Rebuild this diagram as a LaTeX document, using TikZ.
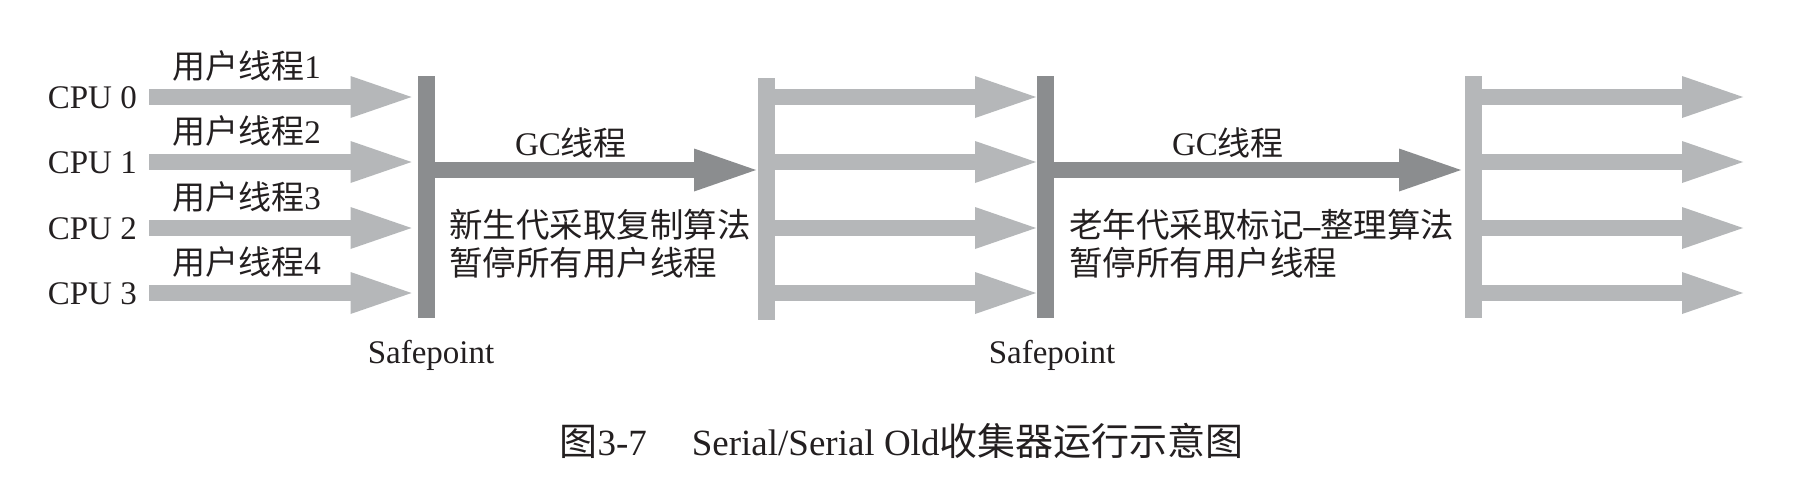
\documentclass[tikz,border=0pt]{standalone}
\usepackage{fontspec}
\setmainfont{Liberation Serif}
\newfontfamily\cjk{Noto Sans CJK SC}
\usetikzlibrary{arrows.meta}
\definecolor{lightbar}{RGB}{181,183,185}
\definecolor{darkbar}{RGB}{139,141,143}
\definecolor{ink}{RGB}{35,31,32}
\begin{document}
\begin{tikzpicture}[x=1pt,y=-1pt,
  barbase/.style={minimum width=17pt, minimum height=242pt, inner sep=0pt, outer sep=0pt, draw=none},
  darkstop/.style={barbase, fill=darkbar},
  lightstop/.style={barbase, fill=lightbar},
  userarrow/.style={draw=lightbar, line width=16pt, -{Triangle[length=61pt,width=42pt,line width=0pt]}},
  gcarrow/.style={draw=darkbar, line width=16pt, -{Triangle[length=62pt,width=43pt,line width=0pt]}},
  txt/.style={font=\fontsize{33}{39}\selectfont, text=ink, inner sep=0pt},
  cpulabel/.style={txt, inner xsep=12pt, anchor=base east},
  thrlabel/.style={txt},
  desc/.style={txt, font=\fontsize{33.5}{38.5}\selectfont\cjk, align=left, anchor=west},
  caption/.style={txt, font=\fontsize{37}{44}\selectfont},
]
\useasboundingbox[fill=white] (0,0) rectangle (1794,482);

% stop bars
\node[darkstop]  (sp1) at (426,197) {};
\node[lightstop] (r1)  at (766,199) {};
\node[darkstop]  (sp2) at (1045.5,197) {};
\node[lightstop] (r2)  at (1473.5,197) {};

% CPU labels
\node[cpulabel] (c0) at (149,108) {CPU 0};
\node[cpulabel] (c1) at (149,173) {CPU 1};
\node[cpulabel] (c2) at (149,239) {CPU 2};
\node[cpulabel] (c3) at (149,304) {CPU 3};
\coordinate (y0) at (0,97);
\coordinate (y1) at (0,162);
\coordinate (y2) at (0,228);
\coordinate (y3) at (0,293);
\coordinate (gy) at (0,170);
\coordinate (fin) at (1743,0);

% user thread arrows before first safepoint
\foreach \i in {0,1,2,3}{
  \draw[userarrow, shorten >=6pt] (c\i.east |- y\i) -- (sp1.west |- y\i);
  \draw[userarrow, shorten >=1pt] (r1.east |- y\i) -- (sp2.west |- y\i);
  \draw[userarrow] (r2.east |- y\i) -- (fin |- y\i);
}

% thread labels
\node[thrlabel] (u1) at (246.5,66)  {{\cjk 用户线程}1};
\node[thrlabel] (u2) at (246.5,131) {{\cjk 用户线程}2};
\node[thrlabel] (u3) at (246.5,197) {{\cjk 用户线程}3};
\node[thrlabel] (u4) at (246.5,262) {{\cjk 用户线程}4};

% GC arrows
\draw[gcarrow, shorten >=1.5pt] (sp1.east |- gy) -- (r1.west |- gy);
\draw[gcarrow, shorten >=4pt] (sp2.east |- gy) -- (r2.west |- gy);
\node[thrlabel] (g1) at (571,143)  {GC{\cjk 线程}};
\node[thrlabel] (g2) at (1228,143) {GC{\cjk 线程}};

% descriptions
\node[desc] (d1) at (449,244)  {新生代采取复制算法\\暂停所有用户线程};
\node[desc] (d2) at (1069,244) {老年代采取标记{\rmfamily\bfseries –}整理算法\\暂停所有用户线程};

% safepoint labels
\node[txt, anchor=base] (s1l) at (431,363)  {Safepoint};
\node[txt, anchor=base] (s2l) at (1052,363) {Safepoint};

% caption
\node[caption] (cap) at (901.5,441) {{\cjk\fontsize{38}{44}\selectfont 图}3-7\hspace{45pt}Serial/Serial Old{\cjk\fontsize{38}{44}\selectfont 收集器运行示意图}};
\end{tikzpicture}
\end{document}
